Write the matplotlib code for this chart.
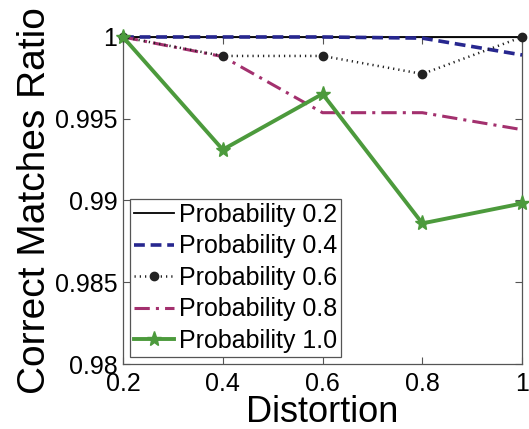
import numpy as np
import matplotlib
matplotlib.use('Agg')
import matplotlib.pyplot as plt

plt.rcParams['font.family'] = ['Liberation Sans', 'DejaVu Sans']

distortion = [0.2, 0.4, 0.6, 0.8, 1.0]
p02 = [1.0, 1.0, 1.0, 1.0, 1.0]
p04 = [1.0, 1.0, 1.0, 0.99993, 0.9989]
p06 = [1.0, 0.99884, 0.99884, 0.99774, 1.0]
p08 = [1.0, 0.9988, 0.99537, 0.99537, 0.99433]
p10 = [1.0, 0.99311, 0.99652, 0.9886, 0.98982]
labels = ['Probability 0.2', 'Probability 0.4', 'Probability 0.6',
          'Probability 0.8', 'Probability 1.0']
xticks = [0.2, 0.4, 0.6, 0.8, 1.0]
xticklabels = ['0.2', '0.4', '0.6', '0.8', '1']
yticks = [0.98, 0.985, 0.99, 0.995, 1.0]
yticklabels = ['0.98', '0.985', '0.99', '0.995', '1']

fig = plt.figure(figsize=(5.29, 4.29), dpi=100)
ax = fig.add_axes([0.2325, 0.1515, 0.7545, 0.7623])

ax.plot(distortion, p02, color='black', lw=1.3, label=labels[0], clip_on=False, zorder=3)
ax.plot(distortion, p04, color='#27278f', lw=2.6, ls=(0, (3, 1.6)), label=labels[1], clip_on=False, zorder=3)
ax.plot(distortion, p06, color='#222222', lw=1.8, ls=(0, (0.5, 1.6)), marker='o', ms=6,
        label=labels[2], clip_on=False, zorder=4)
ax.plot(distortion, p08, color='#a3306e', lw=2.2, ls=(0, (5, 2, 1, 2)), label=labels[3], clip_on=False, zorder=3)
ax.plot(distortion, p10, color='#4c9a3c', lw=2.8, marker='*', ms=11, label=labels[4],
        clip_on=False, zorder=5)

ax.set_xlim(0.2, 1.0)
ax.set_ylim(0.98, 1.0)
ax.set_xticks(xticks)
ax.set_xticklabels(xticklabels)
ax.set_yticks(yticks)
ax.set_yticklabels(yticklabels)
ax.tick_params(direction='in', labelsize=18, length=5, width=0.8, color='#555555',
               top=True, right=True)
ax.tick_params(axis='x', pad=6)
ax.tick_params(axis='y', pad=4)
for s in ax.spines.values():
    s.set_color('#555555')
    s.set_linewidth(0.9)

ax.set_xlabel('Distortion', fontsize=26, labelpad=-1)
ax.set_ylabel('Correct Matches Ratio', fontsize=28, labelpad=1)

leg = ax.legend(loc='lower left', fontsize=18, handlelength=1.6, handletextpad=0.2,
                labelspacing=0.3, borderpad=0.15, borderaxespad=0.3, fancybox=False,
                framealpha=1, edgecolor='#555555')
leg.get_frame().set_linewidth(0.9)

fig.savefig('out.png', dpi=100)
